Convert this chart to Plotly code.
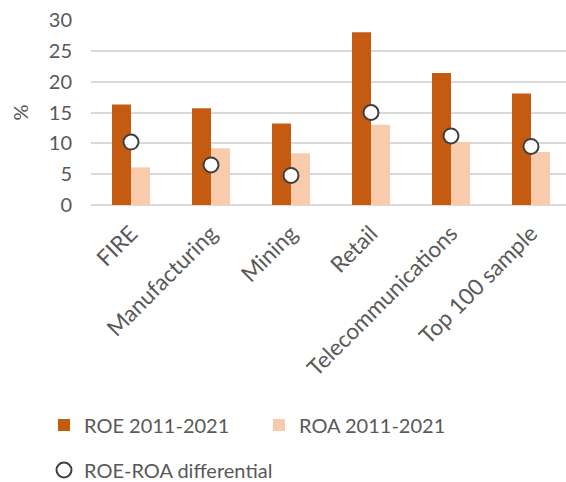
import plotly.graph_objects as go

# Sector return figures, percent
sectors = ["FIRE", "Manufacturing", "Mining", "Retail", "Telecommunications", "Top 100 sample"]
roe = [16.3, 15.7, 13.2, 28.0, 21.4, 18.1]
roa = [6.1, 9.2, 8.4, 13.0, 10.2, 8.6]
differential = [10.2, 6.5, 4.8, 15.0, 11.2, 9.5]

ROE_COLOR = "#C55A11"
ROA_COLOR = "#F8CBAD"
TEXT_COLOR = "#595959"
GRID_COLOR = "#D9D9D9"
FONT = "Lato"

fig = go.Figure()
fig.add_trace(go.Bar(
    x=sectors, y=roe, name="ROE 2011-2021",
    marker=dict(color=ROE_COLOR, line=dict(width=0)),
    legend="legend",
))
fig.add_trace(go.Bar(
    x=sectors, y=roa, name="ROA 2011-2021",
    marker=dict(color=ROA_COLOR, line=dict(width=0)),
    legend="legend",
))
fig.add_trace(go.Scatter(
    x=sectors, y=differential, name="ROE-ROA differential",
    mode="markers",
    marker=dict(symbol="circle", size=15, color="white",
                line=dict(color="#404040", width=2)),
    legend="legend2",
))

fig.update_layout(
    width=566, height=482,
    margin=dict(l=91, r=0, t=20, b=277),
    paper_bgcolor="white", plot_bgcolor="white",
    font=dict(family=FONT, size=19, color=TEXT_COLOR),
    barmode="group",
    bargap=0.525,
    bargroupgap=0,
    xaxis=dict(
        range=[-0.5, 5.4375],
        tickangle=-45,
        showgrid=False, zeroline=False, showline=False,
        ticks="",
        ticklabelstandoff=10,
        tickfont=dict(size=22.5, color=TEXT_COLOR),
    ),
    yaxis=dict(
        range=[0, 30], dtick=5,
        showgrid=True, gridcolor=GRID_COLOR, gridwidth=1.5,
        zeroline=True, zerolinecolor=GRID_COLOR, zerolinewidth=1.5,
        showline=False, ticks="",
        ticklabelstandoff=18,
        tickfont=dict(size=20, color=TEXT_COLOR),
        title=dict(text="%", font=dict(size=20, color=TEXT_COLOR), standoff=14),
    ),
    legend=dict(
        orientation="h",
        x=44 / 566, xanchor="left",
        y=(482 - 425) / 482, yanchor="middle",
        xref="container", yref="container",
        entrywidth=170, entrywidthmode="pixels",
        font=dict(size=20, color=TEXT_COLOR),
        bgcolor="rgba(0,0,0,0)",
    ),
    legend2=dict(
        orientation="h",
        x=44 / 566, xanchor="left",
        y=(482 - 470) / 482, yanchor="middle",
        xref="container", yref="container",
        font=dict(size=20, color=TEXT_COLOR),
        bgcolor="rgba(0,0,0,0)",
    ),
)

fig.write_html("out.html")
